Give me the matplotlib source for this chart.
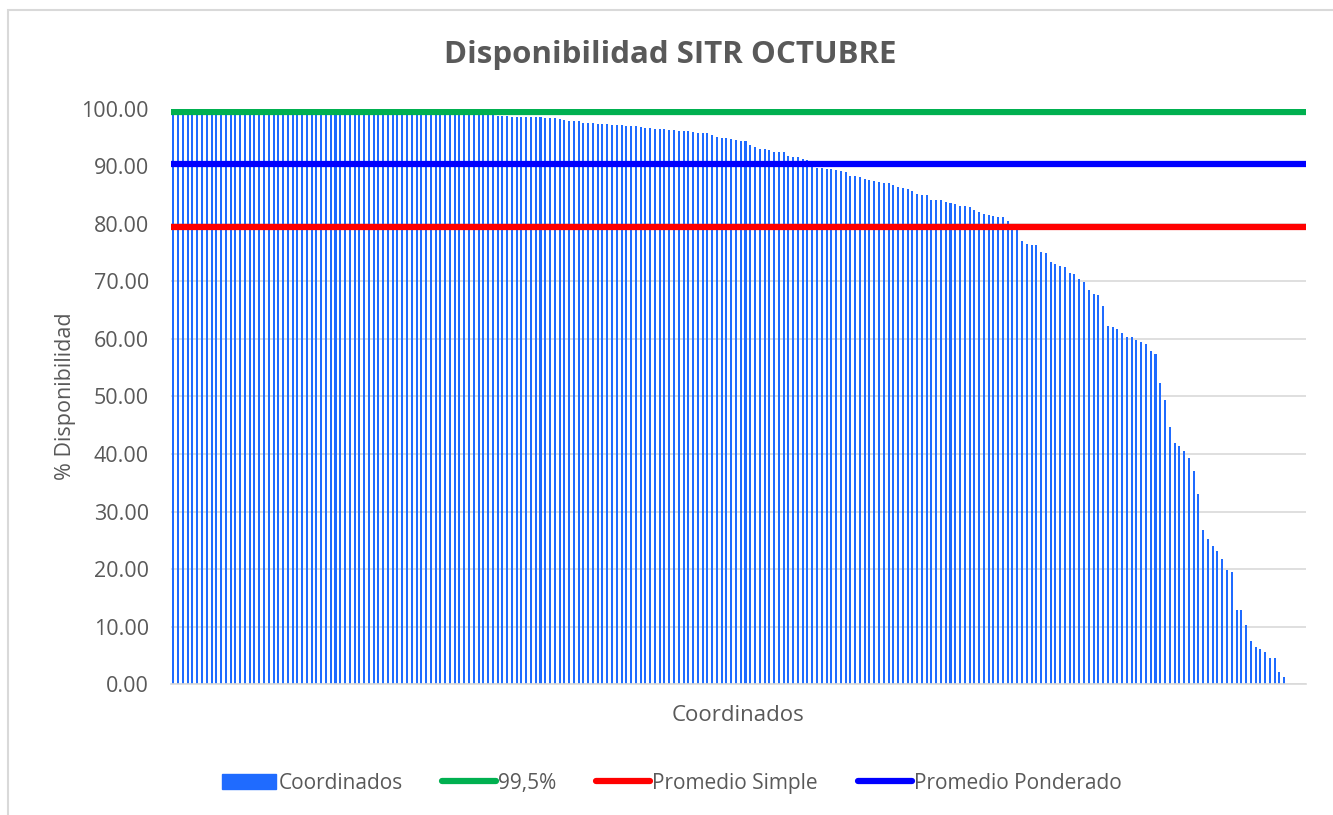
import numpy as np
import matplotlib
matplotlib.use("Agg")
import matplotlib.pyplot as plt
from matplotlib.patches import Rectangle, Patch
from matplotlib.lines import Line2D

plt.rcParams['font.family'] = ['Open Sans', 'DejaVu Sans']

# % disponibilidad por coordinado (ordenado de mayor a menor)
disp_inicio = [100.0, 100.0, 100.0, 100.0, 100.0, 100.0, 99.95, 99.9, 99.9, 99.85,
               99.8, 99.8, 99.8, 99.75, 99.75, 99.7, 99.7, 99.7, 99.65, 99.65,
               99.6, 99.6, 99.6, 99.55, 99.55, 99.5, 99.5, 99.5, 99.5, 99.45,
               99.45, 99.4, 99.4, 99.4, 99.4, 99.35, 99.35, 99.35, 99.3, 99.3,
               99.3, 99.3, 99.25, 99.25, 99.25, 99.2, 99.2, 99.2, 99.2, 99.2,
               99.15, 99.15, 99.15, 99.15, 99.1, 99.1, 99.1, 99.1, 99.1, 99.1,
               99.1, 99.1, 99.08, 99.08, 99.08]
disp_medio = [99.07, 99.07, 98.96, 98.84, 98.78, 98.78, 98.67, 98.67, 98.67, 98.61,
              98.61, 98.61, 98.61, 98.49, 98.38, 98.38, 98.26, 98.09, 97.9, 97.86,
              97.86, 97.6, 97.6, 97.6, 97.45, 97.4, 97.3, 97.2, 97.16, 97.16,
              97.1, 97.04, 96.99, 96.9, 96.75, 96.7, 96.58, 96.58, 96.52, 96.4,
              96.3, 96.2, 96.2, 96.1, 96.0, 95.9, 95.8, 95.77, 95.5, 95.1,
              95.0, 94.9, 94.84, 94.55, 94.5, 94.43, 93.7, 93.3, 93.04, 93.0,
              92.9, 92.6, 92.5, 92.5, 91.9, 91.65, 91.65, 91.25, 91.2, 90.1,
              89.8, 89.7, 89.6, 89.5, 89.4, 89.2, 89.04, 88.35, 88.35, 88.1,
              87.8, 87.65, 87.4, 87.3, 87.1, 87.07, 86.7, 86.4, 86.3, 86.0,
              85.7, 85.2, 85.1, 85.04, 84.2, 84.17, 84.1, 83.8, 83.6, 83.4,
              83.2, 83.2, 82.96, 82.4, 82.1, 81.7, 81.6, 81.4, 81.3, 81.2,
              80.5, 79.6, 79.0]
disp_final = [77.0, 76.5, 76.35, 76.35, 75.1, 75.0, 73.4, 73.0, 72.7, 72.6,
              71.5, 71.3, 70.4, 69.97, 68.5, 67.8, 67.6, 65.7, 62.2, 62.0,
              61.7, 61.0, 60.35, 60.3, 59.9, 59.4, 59.1, 57.9, 57.4, 52.3,
              49.4, 44.75, 41.9, 41.4, 40.5, 39.25, 37.04, 33.0, 26.7, 25.2,
              24.06, 23.1, 21.7, 19.8, 19.4, 12.9, 12.9, 10.26, 7.54, 6.5,
              6.1, 5.5, 4.58, 4.55, 2.1, 1.28, 0.0, 0.0, 0.0, 0.0]
disponibilidad = disp_inicio + disp_medio + disp_final

meta = 99.5
promedio_simple = 79.5
promedio_ponderado = 90.5

fig = plt.figure(figsize=(13.33, 8.15), dpi=100)
ax = fig.add_axes([0.1283, 0.1607, 0.8512, 0.7056])

x = np.arange(len(disponibilidad))
ax.bar(x, disponibilidad, width=0.42, color='#1F6BFF', zorder=2)

ax.axhline(meta, color='#00B050', lw=4.5, zorder=3)
ax.axhline(promedio_ponderado, color='#0000FF', lw=4.5, zorder=3)
ax.axhline(promedio_simple, color='#FF0000', lw=4.5, zorder=3)

ax.set_xlim(-0.5, len(disponibilidad) - 0.5)
ax.set_ylim(0, 100)
ax.set_yticks(np.arange(0, 101, 10))
ax.set_yticklabels(['%.2f' % v for v in np.arange(0, 101, 10)], fontsize=15.5, color='#595959')
ax.set_xticks([])
ax.grid(axis='y', color='#D9D9D9', lw=1.2, zorder=0)
for s in ['top', 'right', 'left']:
    ax.spines[s].set_visible(False)
ax.spines['bottom'].set_color('#D9D9D9')
ax.spines['bottom'].set_linewidth(1.2)
ax.tick_params(axis='y', length=0, pad=16)

ax.set_ylabel('% Disponibilidad', fontsize=15.5, color='#595959', labelpad=4)
ax.set_xlabel('Coordinados', fontsize=16, color='#595959', labelpad=15)
fig.text(0.503, 0.933, 'Disponibilidad SITR OCTUBRE', ha='center', va='center',
         fontsize=22.5, fontweight='bold', color='#595959')

handles = [Patch(color='#1F6BFF'),
           Line2D([], [], color='#00B050', lw=4.5, solid_capstyle='round'),
           Line2D([], [], color='#FF0000', lw=4.5, solid_capstyle='round'),
           Line2D([], [], color='#0000FF', lw=4.5, solid_capstyle='round')]
labels = ['Coordinados', '99,5%', 'Promedio Simple', 'Promedio Ponderado']
leg = fig.legend(handles, labels, loc='center', bbox_to_anchor=(0.504, 0.039), ncol=4,
                 frameon=False, fontsize=15, handlelength=2.6, handletextpad=0.1,
                 columnspacing=1.9, labelcolor='#595959')

# borde del grafico
fig.patches.append(Rectangle((0.006, -0.01), 1.0, 0.998, transform=fig.transFigure,
                             fill=False, edgecolor='#D9D9D9', lw=1.5))

fig.savefig('out.png', dpi=100)
